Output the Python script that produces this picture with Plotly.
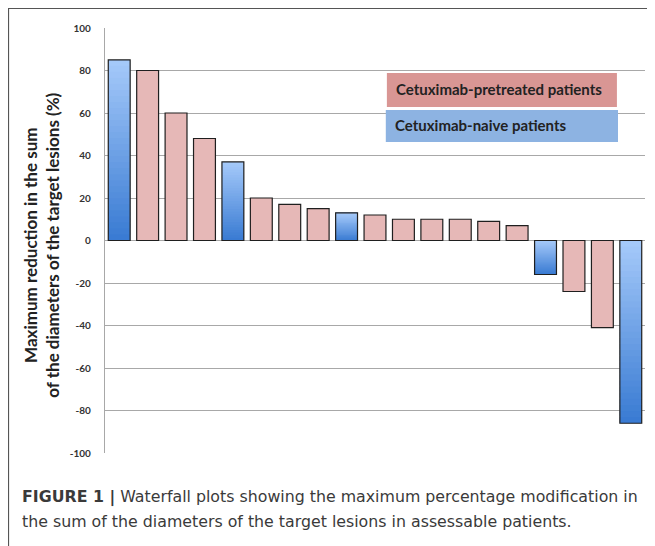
import plotly.graph_objects as go

patients = list(range(1, 20))
values = [85, 80, 60, 48, 37, 20, 17, 15, 13, 12, 10, 10, 10, 9, 7, -16, -24, -41, -86]
groups = ["naive", "pre", "pre", "pre", "naive", "pre", "pre", "pre", "naive", "pre",
          "pre", "pre", "pre", "pre", "pre", "naive", "pre", "pre", "naive"]
y_ticks = [100, 80, 60, 40, 20, 0, -20, -40, -60, -80, -100]
legend_labels = ["Cetuximab-pretreated patients", "Cetuximab-naive patients"]

PINK = "#E6B8B7"
LIGHT = (166, 202, 250)
DARK = (56, 122, 210)
OUTLINE = "#1f1f1f"
BW = 0.77

def lerp(a, b, t):
    return "rgb(%d,%d,%d)" % tuple(round(a[i] + (b[i] - a[i]) * t) for i in range(3))

fig = go.Figure()

# pink bars
px = [p for p, g in zip(patients, groups) if g == "pre"]
pv = [v for v, g in zip(values, groups) if g == "pre"]
fig.add_trace(go.Bar(x=px, y=pv, width=BW, marker=dict(color=PINK, line=dict(color=OUTLINE, width=1.2)),
                     showlegend=False, hoverinfo="skip"))

# blue bars with vertical gradient (light top, dark bottom)
bx = [p for p, g in zip(patients, groups) if g == "naive"]
bv = [v for v, g in zip(values, groups) if g == "naive"]
N = 30
for k in range(N):
    frac = (k + 0.5) / N
    cols, bases, heights = [], [], []
    for v in bv:
        cols.append(lerp(DARK, LIGHT, frac) if v >= 0 else lerp(LIGHT, DARK, frac))
        b = v * k / N
        top = v * min(k + 1.8, N) / N
        bases.append(b)
        heights.append(top - b)
    fig.add_trace(go.Bar(x=bx, y=heights, base=bases, width=BW,
                         marker=dict(color=cols, line=dict(width=0)), showlegend=False, hoverinfo="skip"))
fig.add_trace(go.Bar(x=bx, y=bv, width=BW, marker=dict(color="rgba(0,0,0,0)", line=dict(color=OUTLINE, width=1.2)),
                     showlegend=False, hoverinfo="skip"))

fig.update_layout(
    width=647, height=538, barmode="overlay",
    paper_bgcolor="white", plot_bgcolor="white",
    margin=dict(l=97, r=10, t=20, b=93),
    xaxis=dict(range=[0.5, 19.5], showticklabels=False, showgrid=False, zeroline=False, ticks="", fixedrange=True),
    yaxis=dict(range=[-100, 100], tickvals=y_ticks, ticktext=[str(t) for t in y_ticks],
               showgrid=True, gridcolor="#A8A8A8", gridwidth=1.3, zeroline=True, zerolinecolor="#A8A8A8",
               zerolinewidth=1.3, showline=True, linecolor="#A8A8A8", linewidth=1.3, ticks="",
               ticklabelstandoff=11,
               tickfont=dict(family="Lato", size=10, color="#333333", weight="bold")),
    font=dict(family="Lato"),
    showlegend=False,
)

# y-axis title
fig.add_annotation(xref="paper", yref="paper", x=-0.1167, y=0.49, xanchor="center", yanchor="middle",
                   text="Maximum reduction in the sum<br>of the diameters of the target lesions (%)",
                   textangle=-90, showarrow=False,
                   font=dict(family="Lato", size=17, color="#222222", weight="bold"))

# legend boxes
fig.add_shape(type="rect", xref="paper", yref="paper", x0=0.522, x1=0.948, y0=0.814, y1=0.894,
              fillcolor="#D99694", line=dict(width=0), layer="above")
fig.add_shape(type="rect", xref="paper", yref="paper", x0=0.52, x1=0.95, y0=0.732, y1=0.807,
              fillcolor="#8DB3E2", line=dict(width=0), layer="above")
fig.add_annotation(xref="paper", yref="paper", x=0.536, y=0.856, xanchor="left", yanchor="middle",
                   text=legend_labels[0], showarrow=False,
                   font=dict(family="Lato", size=15, color="#222222", weight="bold"))
fig.add_annotation(xref="paper", yref="paper", x=0.533, y=0.772, xanchor="left", yanchor="middle",
                   text=legend_labels[1], showarrow=False,
                   font=dict(family="Lato", size=15, color="#222222", weight="bold"))

# caption
CAP_FONT = dict(family="DejaVu Sans", size=15.8, color="#3a3a3a")
fig.add_annotation(xref="paper", yref="paper", x=-0.157, y=-0.104, xanchor="left", yanchor="middle",
                   align="left", showarrow=False,
                   text="<b>FIGURE 1 |</b> Waterfall plots showing the maximum percentage modification in",
                   font=CAP_FONT)
fig.add_annotation(xref="paper", yref="paper", x=-0.157, y=-0.162, xanchor="left", yanchor="middle",
                   align="left", showarrow=False,
                   text="the sum of the diameters of the target lesions in assessable patients.",
                   font=CAP_FONT)

# figure frame
fig.add_shape(type="line", xref="paper", yref="paper", x0=-0.18, x1=1.1, y0=1.046, y1=1.046,
              line=dict(color="#555555", width=1.2))
fig.add_shape(type="line", xref="paper", yref="paper", x0=-0.1787, x1=-0.1787, y0=1.046, y1=-0.25,
              line=dict(color="#555555", width=1.2))

fig.write_html("out.html")
